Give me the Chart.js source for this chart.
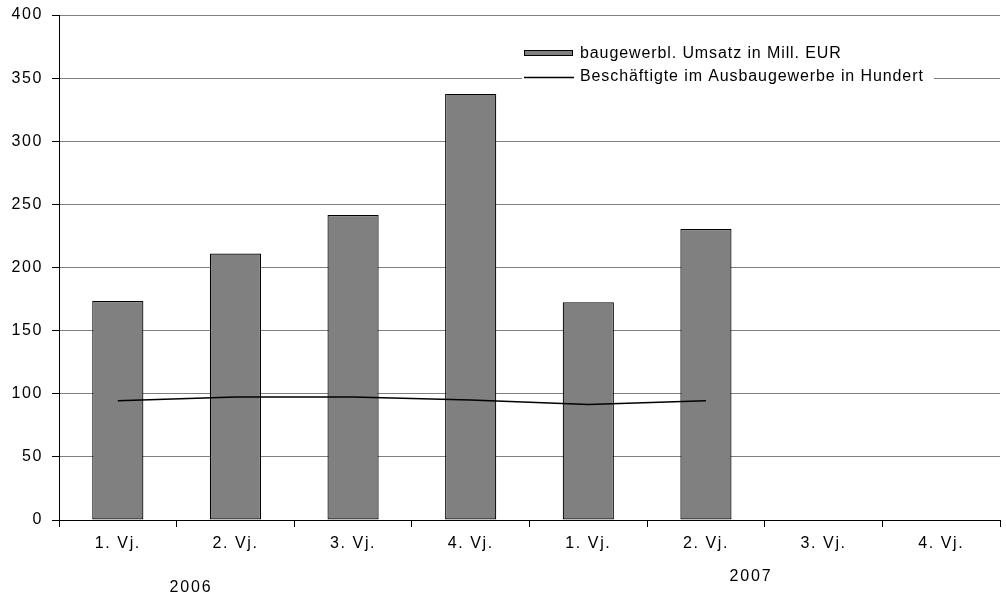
<!DOCTYPE html>
<html>
<head>
<meta charset="utf-8">
<script src="https://cdn.jsdelivr.net/npm/chart.js@4"></script>
<style>
  html, body { margin: 0; padding: 0; background: #fff; }
  #wrap { width: 1006px; height: 598px; }
</style>
</head>
<body>
<div id="wrap"><canvas id="graph_bau"></canvas></div>
<script>
var quartale = ["1. Vj.", "2. Vj.", "3. Vj.", "4. Vj.", "1. Vj.", "2. Vj.", "3. Vj.", "4. Vj."];
var jahre = ["2006", "2007"];
var umsatz = [173.5, 211, 241.5, 337.5, 172.5, 230.5, null, null];
var beschaeftigte = [94.5, 97.5, 97.5, 95, 91.5, 94.5, null, null];
var yTicks = [0, 50, 100, 150, 200, 250, 300, 350, 400];

var legendNames = ["baugewerbl. Umsatz in Mill. EUR", "Beschäftigte im Ausbaugewerbe in Hundert"];
var schrift = '"Liberation Sans", Arial, sans-serif';

// etwas gesperrte Schrift wie im Original
var sperren = {
    id: 'sperren',
    beforeLayout: function (chart) { chart.ctx.letterSpacing = '1.6px'; },
    beforeDraw: function (chart) { chart.ctx.letterSpacing = '1.6px'; }
};

// Legende und Jahreszahlen direkt auf den Canvas zeichnen
var extras = {
    id: 'extras',
    afterDraw: function (chart) {
        var c = chart.ctx;
        c.save();
        // Legende
        c.fillStyle = '#fff';
        c.fillRect(522, 40, 412, 48);
        c.fillStyle = '#808080';
        c.strokeStyle = '#000';
        c.lineWidth = 1;
        c.fillRect(524.5, 50.5, 48, 5);
        c.strokeRect(524.5, 50.5, 48, 5);
        c.beginPath();
        c.moveTo(524, 77.5);
        c.lineTo(574, 77.5);
        c.lineWidth = 1.5;
        c.stroke();
        c.fillStyle = '#000';
        c.font = '16px ' + schrift;
        c.letterSpacing = '0.9px';
        c.textBaseline = 'middle';
        c.textAlign = 'left';
        c.fillText(legendNames[0], 580, 54);
        c.fillText(legendNames[1], 580, 77);
        // Jahre
        c.letterSpacing = '1.8px';
        c.textAlign = 'center';
        c.fillText(jahre[0], 191, 588);
        c.fillText(jahre[1], 751, 577);
        c.restore();
    }
};

var ctx = document.getElementById("graph_bau");

var chart_bau = new Chart(ctx, {
    type: 'bar',
    data: {
        labels: quartale,
        datasets: [{
            type: 'line',
            label: legendNames[1],
            data: beschaeftigte,
            borderColor: '#000',
            borderWidth: 1.5,
            pointRadius: 0,
            tension: 0,
            fill: false,
            order: 0
        }, {
            label: legendNames[0],
            data: umsatz,
            backgroundColor: '#808080',
            borderColor: '#000',
            borderWidth: 1.2,
            borderSkipped: false,
            barPercentage: 0.435,
            categoryPercentage: 1,
            order: 1
        }]
    },
    options: {
        responsive: true,
        maintainAspectRatio: false,
        animation: false,
        events: [],
        layout: {
            padding: { left: 0, right: 6, top: 15, bottom: 0 }
        },
        plugins: {
            legend: { display: false },
            tooltip: { enabled: false }
        },
        scales: {
            x: {
                offset: true,
                grid: {
                    offset: true,
                    drawOnChartArea: false,
                    drawTicks: true,
                    tickLength: 7,
                    color: '#000'
                },
                border: { color: '#000', width: 1 },
                ticks: {
                    color: '#000',
                    padding: 7,
                    font: { family: schrift, size: 16 },
                    maxRotation: 0
                },
                afterFit: function (scale) {
                    scale.height = 78;
                    scale.paddingLeft = 0;
                    scale.paddingRight = 0;
                }
            },
            y: {
                min: 0,
                max: 400,
                afterBuildTicks: function (scale) {
                    scale.ticks = yTicks.map(function (v) { return { value: v }; });
                },
                grid: {
                    color: '#808080',
                    tickColor: '#000',
                    tickLength: 7,
                    lineWidth: 1
                },
                border: { color: '#000', width: 1 },
                ticks: {
                    color: '#000',
                    padding: 9,
                    font: { family: schrift, size: 16 }
                },
                afterFit: function (scale) {
                    scale.width = 59;
                    scale.paddingTop = 0;
                    scale.paddingBottom = 0;
                }
            }
        }
    },
    plugins: [sperren, extras]
});
</script>
</body>
</html>
